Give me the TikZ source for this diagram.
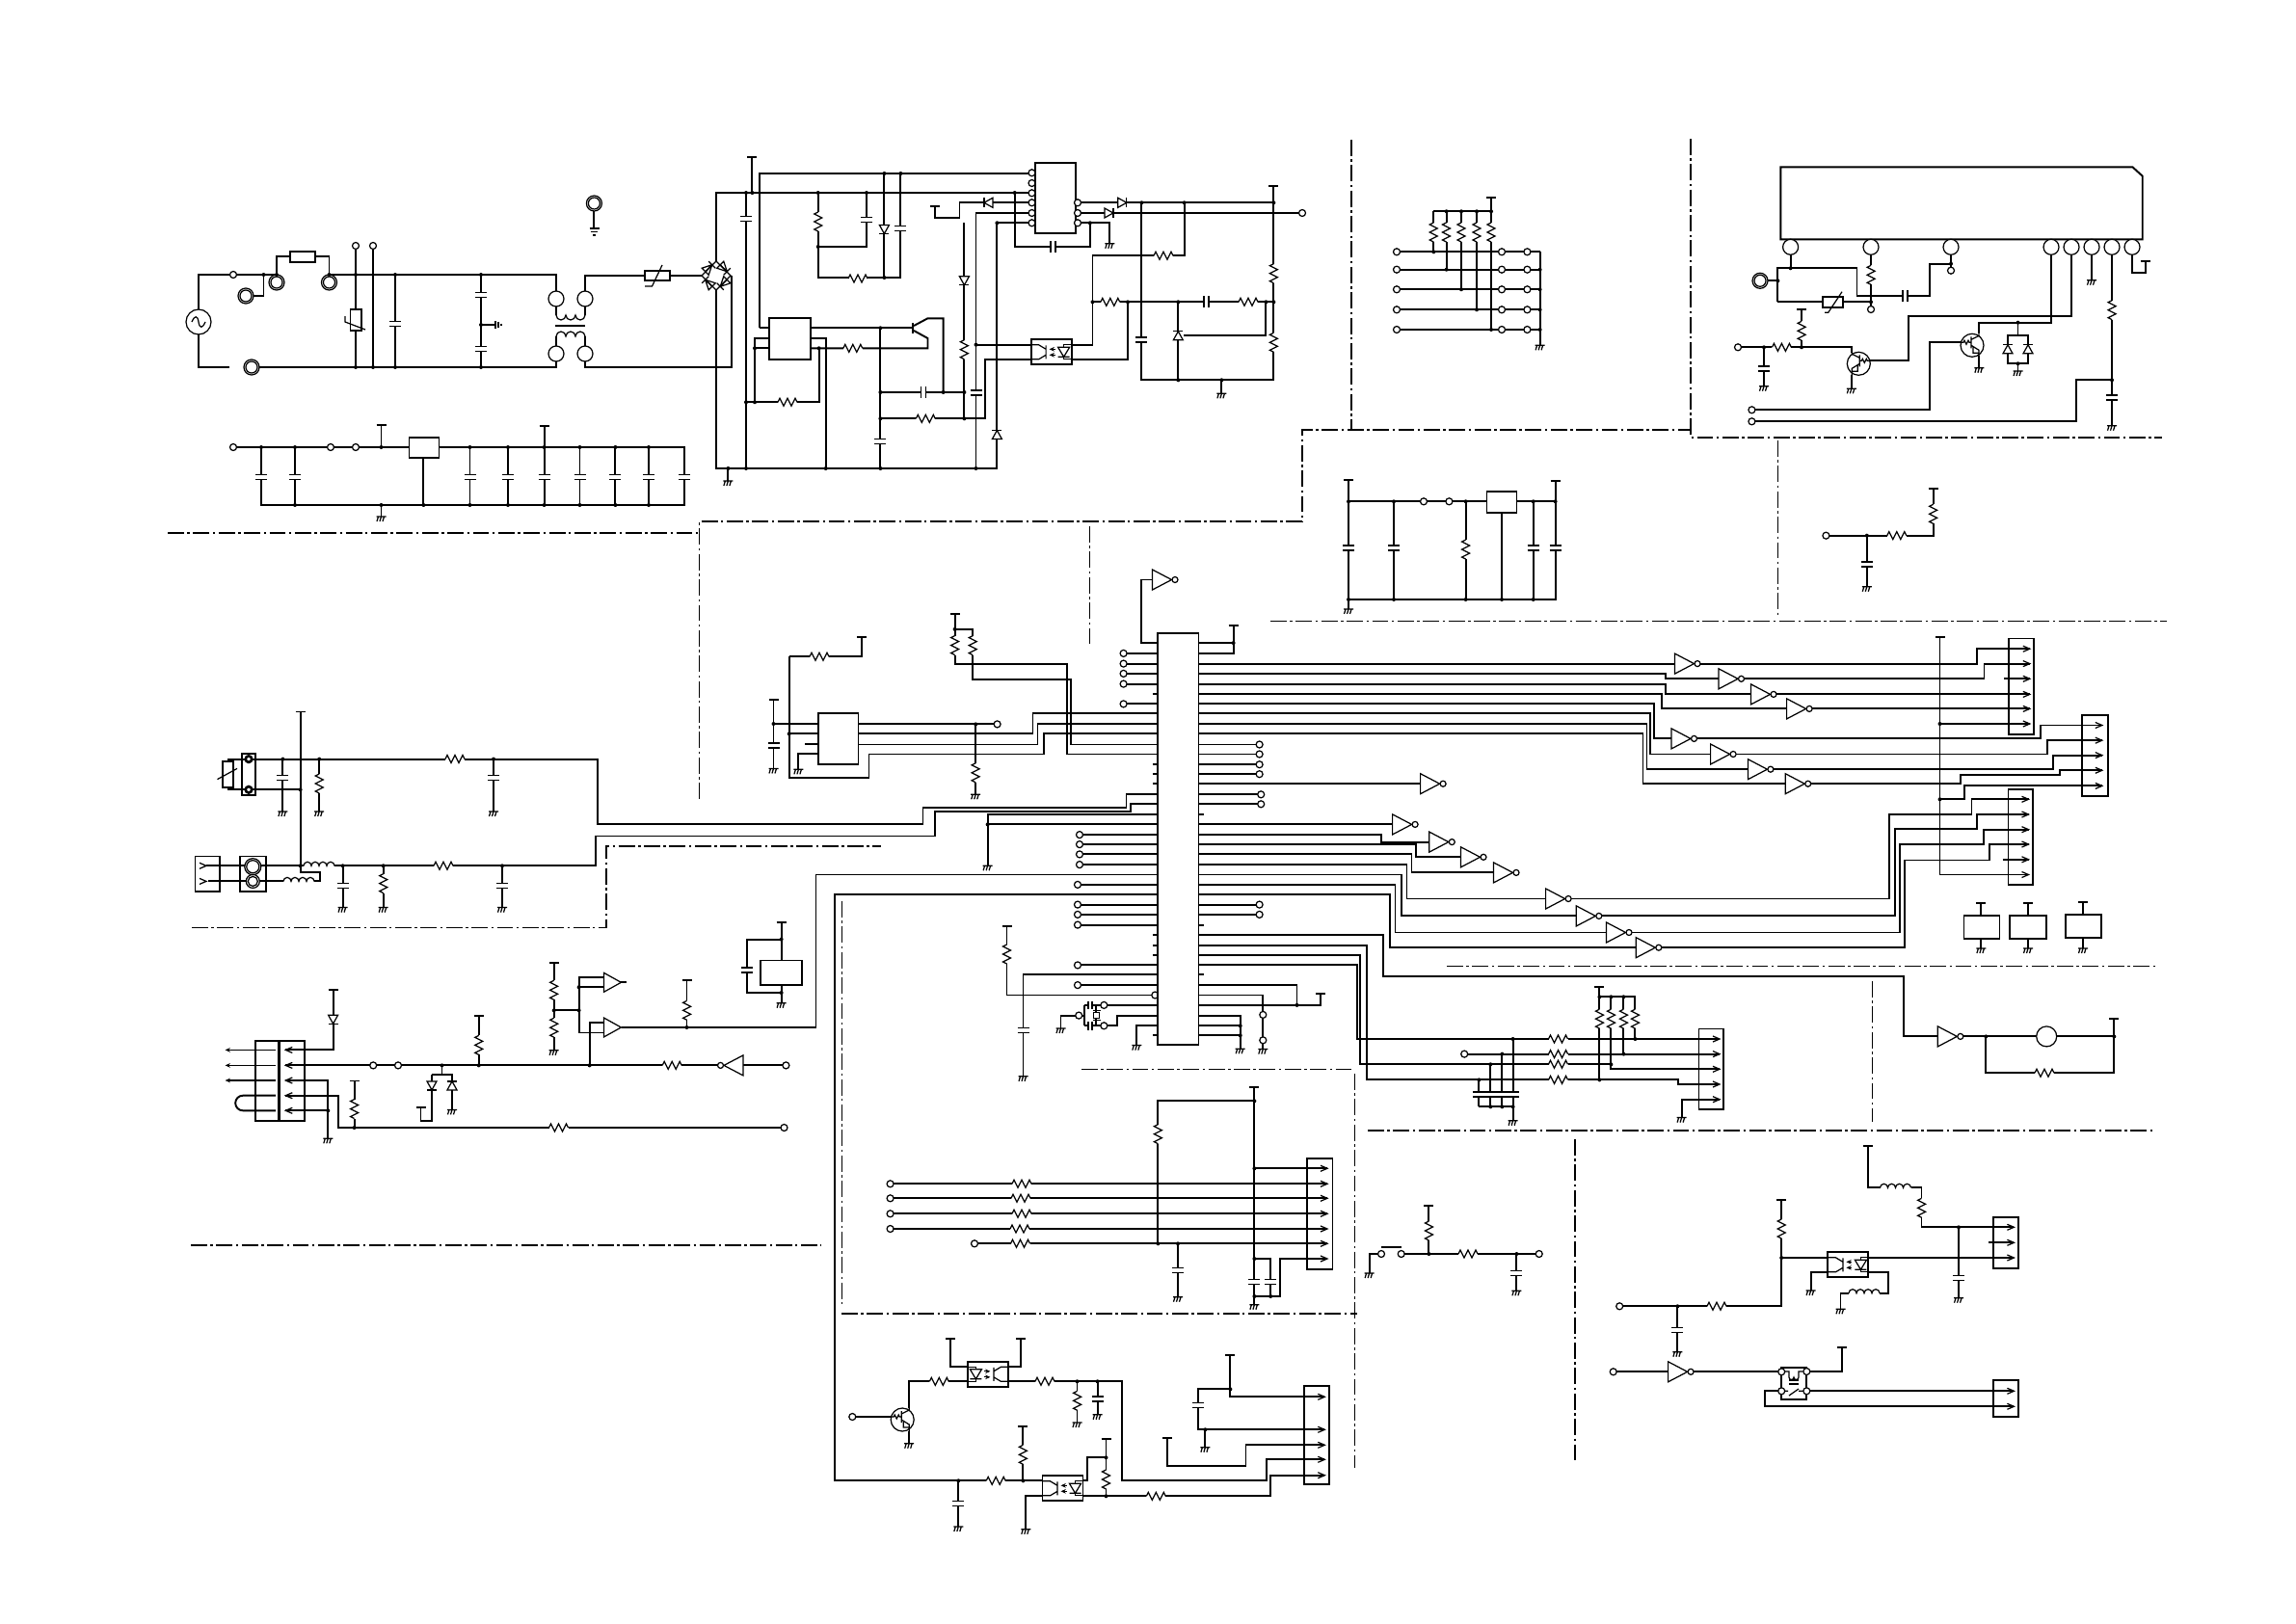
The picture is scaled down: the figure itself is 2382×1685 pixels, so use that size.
\documentclass[tikz,border=0pt]{standalone}
\usetikzlibrary{arrows.meta}
\tikzset{
  corte/.style={line width=0.5pt,dash pattern=on 4.8pt off 1pt on 0.7pt off 1pt},
  pieza/.style={line width=0.35pt},
  flecha/.style={-{Stealth[length=1.5pt,width=1.3pt]}},
  resH/.pic={\fill[white] (-10,-4.5) rectangle (10,4.5);
    \draw[pieza] (-10,0)--(-8,-4)--(-4,4)--(0,-4)--(4,4)--(8,-4)--(10,0);},
  resV/.pic={\fill[white] (-4.5,-10) rectangle (4.5,10);
    \draw[pieza] (0,-10)--(-4,-8)--(4,-4)--(-4,0)--(4,4)--(-4,8)--(0,10);},
  capV/.pic={\fill[white] (-6,-2.5) rectangle (6,2.5);
    \draw (-6,-2.5)--(6,-2.5) (-6,2.5)--(6,2.5);},
  capH/.pic={\fill[white] (-2.5,-6) rectangle (2.5,6);
    \draw (-2.5,-6)--(-2.5,6) (2.5,-6)--(2.5,6);},
  bobH/.pic={\fill[white] (-16,-5) rectangle (16,1);
    \draw[pieza] (-16,0) arc (180:360:4) arc (180:360:4) arc (180:360:4) arc (180:360:4);},
  gnd/.pic={\draw[pieza] (-5,0)--(5,0) (-3,0)--(-4.5,5) (0,0)--(-1.5,5) (3,0)--(1.5,5);},
  barra/.pic={\draw (-5,0)--(5,0);},
  anillo/.pic={\draw[pieza,fill=white] (0,0) circle (8) (0,0) circle (6);},
  punta/.pic={\draw[pieza] (-7,-3)--(0,0)--(-7,3);},
  puntaI/.pic={\draw[pieza] (7,-3)--(0,0)--(7,3);},
  inv/.pic={\draw[pieza,fill=white] (0,-10.5)--(20,0)--(0,10.5)--cycle;
    \draw[pieza,fill=white] (23.5,0) circle (3);},
  buf/.pic={\draw[pieza,fill=white] (0,-10)--(18,0)--(0,10)--cycle;},
  diodoD/.pic={\draw[pieza,fill=white] (-5,-4.5)--(5,-4.5)--(0,4.5)--cycle; \draw[pieza] (-5,4.5)--(5,4.5);},
  diodoU/.pic={\draw[pieza,fill=white] (-5,4.5)--(5,4.5)--(0,-4.5)--cycle; \draw[pieza] (-5,-4.5)--(5,-4.5);},
  diodoR/.pic={\draw[pieza,fill=white] (-4.5,-5)--(-4.5,5)--(4.5,0)--cycle; \draw[pieza] (4.5,-5)--(4.5,5);},
  diodoL/.pic={\draw[pieza,fill=white] (4.5,-5)--(4.5,5)--(-4.5,0)--cycle; \draw[pieza] (-4.5,-5)--(-4.5,5);},
  puente/.pic={\draw[pieza] (-15,0)--(0,-15)--(15,0)--(0,15)--cycle;
    \foreach \a in {45,135,-45,-135} {
      \begin{scope}[rotate=\a]
        \draw[pieza] (11,-5)--(11,5) (6,-5)--(16,-5)--(11,5)--cycle (6,5)--(16,5);
      \end{scope}
    }},
  opto/.pic={\draw (-21,-13) rectangle (21,13);
    \draw[pieza] (-21,-7.5)--(-13,-7.5)--(-5.5,-3) (-5.5,-7)--(-5.5,7) (-5.5,3)--(-13,7.5)--(-21,7.5);
    \draw[pieza,flecha] (4,-3)--(-2,-3);
    \draw[pieza,flecha] (4,3)--(-2,3);
    \draw[pieza] (21,-7.5)--(13,-7.5)--(13,-5) (13,5)--(13,7.5)--(21,7.5);
    \draw[pieza] (7,-5)--(19,-5)--(13,5)--cycle (7,5)--(19,5);},
  tran/.pic={\draw[pieza,fill=white] (0,0) circle (12);
    \draw[pieza] (-12,-3)--(-9,-3)--(-8,-5)--(-6,-1)--(-4,-5)--(-3,-3)--(-1,-3) (-1,-9)--(-1,3)
      (-1,-6)--(7,-10)--(7,-12) (-1,0)--(7,5)--(7,12) (1,2)--(1,8)--(7,8);}
}
\newcommand{\nudos}[1]{\foreach \p in {#1} {\fill \p circle (2);}}
\newcommand{\bornes}[1]{\foreach \p in {#1} {\draw[pieza,fill=white] \p circle (3.5);}}
\newcommand{\piezas}[2]{\foreach \p in {#2} {\path \p pic {#1};}}

\begin{document}
\begin{tikzpicture}[x=0.01cm,y=-0.01cm,line width=0.55pt]
\useasboundingbox (0,0) rectangle (2382,1685);

% Lineas de corte
\draw[corte] (174,553)--(726,553);
\draw[corte] (725.5,829)--(725.5,541)--(1351,541)--(1351,446.3)--(1754,446.3);
\draw[corte] (1130.4,546)--(1130.4,670);
\draw[corte] (1401.8,145)--(1401.8,445);
\draw[corte] (1754.3,144)--(1754.3,454.3)--(2243,454.3);
\draw[corte] (1844.4,457)--(1844.4,640);
\draw[corte] (1318,644.5)--(2248,644.5);
\draw[corte] (199,962.6)--(629,962.6)--(629,877.8)--(914.4,877.8);
\draw[corte] (198,1292)--(852,1292);
\draw[corte] (873.5,935)--(873.5,1356);
\draw[corte] (873,1363.3)--(1408,1363.3);
\draw[corte] (1121.8,1109.5)--(1404,1109.5);
\draw[corte] (1405.4,1114)--(1405.4,1523);
\draw[corte] (1501,1002.5)--(2236,1002.5);
\draw[corte] (1942.5,1018)--(1942.5,1164);
\draw[corte] (1419,1173.2)--(2236.6,1173.2);
\draw[corte] (1633.6,1182)--(1633.6,1518);

% Entrada de red
\draw (238,381)--(206,381)--(206,347);
\draw (206,321)--(206,285)--(287,285)--(287,266)--(341.5,266)--(341.5,285)--(577,285)--(577,302);
\draw (273.5,285)--(273.5,307)--(263,307);
\draw (269,381)--(577,381)--(577,375);
\draw (369,255)--(369,381);
\draw (387,255)--(387,381);
\draw (410,285)--(410,381);
\draw (499,285)--(499,381);
\draw (499,337)--(514,337);
\draw[pieza] (514,333)--(514,341) (517,334)--(517,340) (520,336)--(520,338);
\draw[pieza,fill=white] (206,334) circle (13);
\draw[pieza] (199,334) .. controls (202,327) and (205,327) .. (206,334) .. controls (207,341) and (210,341) .. (213,334);
\draw[fill=white] (301,261) rectangle (327,272);
\draw[fill=white] (363.5,321) rectangle (375,343);
\draw[pieza] (358,328)--(358,334)--(379,342);
\piezas{anillo}{(287,293),(341.5,293),(255,307),(261,381),(616.4,211)}
\piezas{capV}{(410,336),(499,306),(499,362)}
\bornes{(242,285),(369,255),(387,255)}
\nudos{(273.5,285),(287,285),(341.5,285),(369,285),(410,285),(499,285),(369,381),(387,381),(410,381),(499,381),(499,337)}
\draw (616.4,219)--(616.4,237);
\draw (611.5,237)--(621.5,237) (613,240.5)--(620,240.5) (615,244)--(618,244);

% Transformador y puente
\draw (577,318)--(577,327) (607,318)--(607,327) (577,349)--(577,359) (607,349)--(607,359);
\draw[pieza] (577,327) arc (180:0:5) arc (180:0:5) arc (180:0:5);
\draw[pieza] (577,349) arc (180:360:5) arc (180:360:5) arc (180:360:5);
\draw (576,338)--(607,338);
\draw (607,302)--(607,286)--(669,286) (695,286)--(728,286);
\draw (607,375)--(607,381)--(759,381)--(759,286);
\draw (743,271)--(743,200)--(1070.5,200);
\draw (743,301)--(743,486)--(1034.4,486)--(1034.4,231.3)--(1070.5,231.3);
\foreach \p in {(577,310),(607,310),(577,367),(607,367)} {\draw[pieza,fill=white] \p circle (8);}
\draw[fill=white] (669,281) rectangle (695,291);
\draw[pieza] (669,297)--(676.5,297)--(687,275);
\path (743,286) pic {puente};

% Regulador inferior
\draw (242,464)--(424.5,464) (455.5,464)--(710,464)--(710,524)--(271,524)--(271,464);
\foreach \x in {306,487.5,527,564.6,601.5,638.4,673} {\draw (\x,464)--(\x,524);}
\draw (395.5,441)--(395.5,464);
\draw (564.6,442)--(564.6,464);
\draw (439.4,475)--(439.4,524);
\draw (395.5,524)--(395.5,536);
\draw[fill=white] (424.5,454) rectangle (455.5,475);
\piezas{capV}{(271,495),(306,495),(487.5,495),(527,495),(564.6,495),(601.5,495),(638.4,495),(673,495),(710,495)}
\bornes{(242,464),(343,464),(369,464)}
\nudos{(271,464),(306,464),(395.5,464),(487.5,464),(527,464),(564.6,464),(601.5,464),(638.4,464),(673,464),
  (306,524),(395.5,524),(439.4,524),(487.5,524),(527,524),(564.6,524),(601.5,524),(638.4,524),(673,524)}
\piezas{barra}{(395.5,441),(564.6,442)}
\piezas{gnd}{(395.5,536)}

% Fuente conmutada
\draw (755.4,486)--(755.4,499);
\draw (774,200)--(774,486);
\draw (780.4,163)--(780.4,200);
\draw (788.4,340)--(788.4,180)--(1070.5,180);
\draw (788.4,340)--(798,340);
\draw (848.7,200)--(848.7,288)--(934.4,288)--(934.4,180);
\draw (848.7,256)--(899,256)--(899,200);
\draw (917.4,180)--(917.4,288);
\draw (1070.5,210.3)--(995.5,210.3)--(995.5,225.7)--(970,225.7)--(970,214.3);
\draw (1070.5,221)--(1012.5,221)--(1012.5,486);
\draw (1000.4,231.3)--(1000.4,434);
\draw (1012.5,357.7)--(1069.6,357.7);
\draw (1052.7,200)--(1052.7,256.3)--(1130.8,256.3)--(1130.8,231.3);
\draw (1118,231.3)--(1151.3,231.3)--(1151.3,252.7);
\draw (1120,210.3)--(1321.4,210.3);
\draw (1120,221)--(1351,221);
\draw (1321.4,193)--(1321.4,394.3)--(1184.4,394.3)--(1184.4,210.3);
\draw (1228.6,210.3)--(1228.6,265.3)--(1133.5,265.3)--(1133.5,358.3)--(1111.6,358.3);
\draw (1133.5,313.3)--(1321.4,313.3);
\draw (1170,313.3)--(1170,373.3)--(1111.6,373.3);
\draw (1222.3,313.3)--(1222.3,394.3);
\draw (1313.4,313.3)--(1313.4,348.3)--(1227.7,348.3);
\draw (1267.4,394.3)--(1267.4,408.3);
\draw (1069.6,373.3)--(1022.3,373.3)--(1022.3,434.3)--(913.4,434.3);
\draw (913.4,340.3)--(913.4,486);
\draw (840.6,340.3)--(947.3,340.3);
\draw (948,338)--(962.5,330.3)--(978.6,330.3)--(978.6,407);
\draw (948,343)--(962.5,351)--(962.5,361.3)--(840.6,361.3);
\draw (947.3,335)--(947.3,346);
\draw (913.4,407)--(1000.4,407);
\draw (798,351)--(783,351)--(783,417.3);
\draw (798,361.3)--(783,361.3);
\draw (840.6,351)--(856.7,351)--(856.7,486);
\draw (849.6,361.3)--(849.6,417.3)--(774,417.3);
\draw[fill=white] (1073.7,169) rectangle (1115.6,242);
\draw[fill=white] (798,330) rectangle (840.6,372.7);
\path (1090.6,365.3) pic {opto};
\piezas{resV}{(848.7,230),(1000.4,362.7),(1321.4,283.7),(1321.4,355.3)}
\piezas{resH}{(890,289),(817,417.3),(884.8,361.3),(960.3,434.3),(1207,265.3),(1151.8,313.3),(1295,313.3)}
\piezas{capV}{(774,227),(899,228),(934.4,237),(913.4,458),(1012.5,407.7),(1184.4,352.7)}
\piezas{capH}{(958,407),(1092.9,256.3),(1251.8,313.3)}
\piezas{diodoD}{(917.4,238),(1000.4,291.3)}
\piezas{diodoU}{(1034.4,451),(1222.3,348.3)}
\piezas{diodoL}{(1025.4,210.3)}
\piezas{diodoR}{(1164.3,210.3),(1150.4,221)}
\bornes{(1070.5,179.3),(1070.5,190),(1070.5,200.3),(1070.5,210.3),(1070.5,221),(1070.5,231.3),(1118,210.3),(1118,221),(1118,231.3),(1351,221)}
\nudos{(755.4,486),(774,200),(780.4,200),(774,417.3),(783,417.3),(783,361.3),(774,486),(848.7,200),(899,200),(1052.7,200),
  (917.4,180),(934.4,180),(848.7,256),(917.4,288),(849.6,361.3),(856.7,486),(913.4,340.3),(913.4,407),(913.4,434.3),(913.4,486),
  (978.6,407),(1000.4,407),(1000.4,434.3),(1012.5,357.7),(1012.5,486),(1034.4,231.3),(1130.8,231.3),(1184.4,210.3),(1228.6,210.3),
  (1321.4,210.3),(1133.5,313.3),(1170,313.3),(1222.3,313.3),(1313.4,313.3),(1321.4,313.3),(1222.3,394.3),(1267.4,394.3)}
\piezas{barra}{(780.4,163),(970,214.3),(1321.4,193)}
\piezas{gnd}{(755.4,499),(1151.3,252.7),(1267.4,408.3)}

% Red de resistencias
\draw (1487.3,219.3)--(1547,219.3);
\draw (1547,204.7)--(1547,342);
\draw (1487.3,219.3)--(1487.3,261.3);
\draw (1500.6,219.3)--(1500.6,279.7);
\draw (1516,219.3)--(1516,300.3);
\draw (1532,219.3)--(1532,321.3);
\foreach \y in {261.3,279.7,300.3,321.3,342} {\draw (1449,\y)--(1597.6,\y);}
\draw (1597.6,261.3)--(1597.6,358.3);
\piezas{resV}{(1487.3,241),(1500.6,241),(1516,241),(1532,241),(1547,241)}
\foreach \y in {261.3,279.7,300.3,321.3,342} {\bornes{(1449,\y),(1558,\y),(1584.4,\y)}}
\nudos{(1500.6,219.3),(1516,219.3),(1532,219.3),(1547,219.3),(1487.3,261.3),(1500.6,279.7),(1516,300.3),(1532,321.3),(1547,342),
  (1597.6,279.7),(1597.6,300.3),(1597.6,321.3),(1597.6,342)}
\piezas{barra}{(1547,204.7)}
\piezas{gnd}{(1597.6,358.3)}

% Modulo de potencia
\draw (1857.6,264)--(1857.6,278.3);
\draw (1844.4,313.3)--(1844.4,278.3)--(1926.5,278.3)--(1926.5,307.3)--(2001.7,307.3)--(2001.7,273.7)--(2024,273.7);
\draw (1834,291.3)--(1844.4,291.3);
\draw (1844.4,313.3)--(1891,313.3) (1911.6,313.3)--(1941,313.3);
\draw (1941,264)--(1941,321);
\draw (2024,264)--(2024,280.7);
\draw (1869,320.7)--(1869,360.3);
\draw (1803,360.3)--(1920.8,360.3)--(1920.8,366);
\draw (1830,360.3)--(1830,400.7);
\draw (1940,374.3)--(1980,374.3)--(1980,328.3)--(2149.2,328.3)--(2149.2,264);
\draw (1920.8,389)--(1920.8,403.3);
\draw (1817.4,425.3)--(2001.7,425.3)--(2001.7,355.3)--(2034,355.3);
\draw (2053.4,346)--(2053.4,334.7)--(2128,334.7)--(2128,264);
\draw (2053.4,369)--(2053.4,381.7);
\draw (2093.5,334.7)--(2093.5,348.3);
\draw (2083,348.3) rectangle (2104,377.3);
\draw (2093.5,377.3)--(2093.5,385);
\draw (2170,264)--(2170,290.7);
\draw (2191,264)--(2191,441.7);
\draw (2191,394.3)--(2153.8,394.3)--(2153.8,437.3)--(1817.4,437.3);
\draw (2212,264)--(2212,283.3)--(2225.6,283.3)--(2225.6,270.7);
\draw[fill=white] (1847.3,173.3)--(2212.4,173.3)--(2222.7,182.7)--(2222.7,248.3)--(1847.3,248.3)--cycle;
\foreach \x in {1857.6,1941,2024,2128,2149,2170,2191,2212} {\draw[pieza,fill=white] (\x,256.3) circle (8);}
\draw[fill=white] (1891,308.3) rectangle (1911.6,318.7);
\draw[pieza] (1893,324.3)--(1896.7,324.3)--(1911,302.7);
\path (1826,291.3) pic {anillo};
\path (1928.3,377.3) pic[xscale=-1] {tran};
\path (2046,358.3) pic {tran};
\piezas{resV}{(1941,285.3),(1869,343.3),(2191,321.7)}
\piezas{resH}{(1848.4,360.3)}
\piezas{capV}{(1830,382.3),(2191,412.7)}
\piezas{capH}{(1976.4,307.3)}
\piezas{diodoU}{(2083,362.3),(2104,362.3)}
\bornes{(2024,280.7),(1941,321),(1803,360.3),(1817.4,425.3),(1817.4,437.3)}
\nudos{(1857.6,278.3),(1844.4,291.3),(1941,313.3),(2024,273.7),(1830,360.3),(1869,360.3),(2093.5,334.7),(2093.5,377.3),(2191,394.3)}
\piezas{barra}{(1869,320.7),(2225.6,270.7)}
\piezas{gnd}{(1830,400.7),(1920.8,403.3),(2053.4,381.7),(2093.5,385),(2170,290.7),(2191,441.7)}

% Regulador central
\draw (1399,497.7)--(1399,632);
\draw (1399,520.3)--(1542.5,520.3) (1573.5,520.3)--(1613.6,520.3);
\draw (1399,622)--(1613.6,622)--(1613.6,499.3);
\draw (1446,520.3)--(1446,622);
\draw (1520.6,520.3)--(1520.6,622);
\draw (1590.7,520.3)--(1590.7,622);
\draw (1558,531.7)--(1558,622);
\draw[fill=white] (1542.5,510.3) rectangle (1573.5,531.7);
\piezas{capV}{(1399,568.3),(1446,568.3),(1590.7,568.3),(1613.6,568.3)}
\piezas{resV}{(1520.6,570)}
\bornes{(1477,520.3),(1503.4,520.3)}
\nudos{(1399,520.3),(1446,520.3),(1520.6,520.3),(1590.7,520.3),(1613.6,520.3),(1399,622),(1446,622),(1520.6,622),(1558,622),(1590.7,622)}
\piezas{barra}{(1399,497.7),(1613.6,499.3)}
\piezas{gnd}{(1399,632)}

% Filtro de entrada
\draw (1894.4,555.7)--(2005.7,555.7)--(2005.7,506.7);
\draw (1936.8,555.7)--(1936.8,608.7);
\piezas{resH}{(1967.8,555.7)}
\piezas{resV}{(2005.7,533.3)}
\piezas{capV}{(1936.8,585.7)}
\bornes{(1894.4,555.7)}
\nudos{(1936.8,555.7)}
\piezas{barra}{(2005.7,506.7)}
\piezas{gnd}{(1936.8,608.7)}

% Sensores
\draw (258,787.6)--(619.7,787.6)--(619.7,854.6)--(957.5,854.6)--(957.5,838.2)--(1168.5,838.2)--(1168.5,824.3)--(1201.2,824.3);
\draw (258,819.3)--(311.6,819.3);
\draw (236.5,790)--(236.5,787.6)--(258,787.6) (236.5,816.6)--(236.5,819.3)--(258,819.3);
\draw (311.6,738.5)--(311.6,905.4)--(332,905.4)--(332,914.4)--(216,914.4);
\draw (214,898.3)--(617.8,898.3)--(617.8,867.5)--(970.3,867.5)--(970.3,841.8)--(1172.6,841.8)--(1172.6,834.3)--(1201.2,834.3);
\foreach \x in {293.4,331.2,512} {\draw (\x,787.6)--(\x,842);}
\foreach \x in {355.6,397.7,521} {\draw (\x,898.3)--(\x,941.6);}
\draw[fill=white] (230.7,790) rectangle (242,816.6);
\draw[pieza] (225.5,808.6)--(246,797.4);
\draw (251.3,782) rectangle (264.7,824.6);
\draw (202.5,888.5) rectangle (228.3,924.6);
\draw (249.4,888.5) rectangle (275.7,924.6);
\foreach \y in {787.6,819.3} {\draw[pieza,fill=white] (258,\y) circle (4) (258,\y) circle (2.5);}
\draw[pieza,fill=white] (262.3,899.2) circle (8.5) (262.3,899.2) circle (6.5);
\draw[pieza,fill=white] (262.3,914.4) circle (7) (262.3,914.4) circle (5);
\piezas{punta}{(214,898.3),(214,914.4)}
\piezas{bobH}{(331,898.3),(310,914.4)}
\piezas{resH}{(472,787.6),(460,898.3)}
\piezas{resV}{(331.2,813),(397.7,916.6)}
\piezas{capV}{(293.4,807),(512,807),(355.6,919),(521,919)}
\nudos{(293.4,787.6),(331.2,787.6),(512,787.6),(311.6,819.3),(311.6,898.3),(355.6,898.3),(397.7,898.3),(521,898.3)}
\piezas{barra}{(311.6,738.5)}
\piezas{gnd}{(293.4,842),(331.2,842),(512,842),(355.6,941.6),(397.7,941.6),(521,941.6)}

% Conector del display
\foreach \y in {1089.4,1105.4,1121} {\draw[pieza,flecha] (286,\y)--(233.6,\y);}
\draw (286,1136.7)--(252,1136.7) arc (270:90:7.8)--(286,1152.3);
\draw (296.3,1089.4)--(345.6,1089.4)--(345.6,1027.3);
\draw (296.3,1105.4)--(749.4,1105.4);
\draw (771,1105.4)--(815.4,1105.4);
\draw (296.3,1121)--(340.3,1121)--(340.3,1181.3);
\draw (296.3,1136.7)--(350.8,1136.7)--(350.8,1170)--(813.5,1170);
\draw (296.3,1152.3)--(340.3,1152.3);
\draw (367.6,1121.5)--(367.6,1170);
\draw (458.5,1105.4)--(458.5,1115);
\draw (448,1115)--(469,1115)--(469,1151.4);
\draw (448,1115)--(448,1162.6)--(436.5,1162.6)--(436.5,1148.8);
\draw (496.7,1053.7)--(496.7,1105.4);
\draw (574.7,998.8)--(574.7,1089.8);
\draw (574.7,1048.3)--(600.6,1048.3);
\draw (626.4,1014.4)--(600.6,1014.4)--(600.6,1071.5)--(626.4,1071.5);
\draw (600.6,1024.2)--(626.4,1024.2);
\draw (611.6,1105.4)--(611.6,1061.2)--(626.4,1061.2);
\draw (644,1019.3)--(650,1019.3);
\draw (645,1066)--(846.5,1066)--(846.5,907.5)--(1201.2,907.5);
\draw (712.5,1066)--(712.5,1016.6);
\draw (810.6,957.2)--(810.6,996.5);
\draw (810.6,974.6)--(774.7,974.6)--(774.7,1030)--(810.6,1030);
\draw (810.6,1022.4)--(810.6,1040.7);
\draw (264.7,1079.6) rectangle (288.6,1162.6);
\draw (290.5,1079.6) rectangle (316.4,1162.6);
\draw[fill=white] (789,996.5) rectangle (831.7,1022.4);
\piezas{puntaI}{(296.3,1089.4),(296.3,1105.4),(296.3,1121),(296.3,1136.7),(296.3,1152.3)}
\path (626.4,1019.3) pic {buf};
\path (626.4,1066) pic {buf};
\path (771,1105.4) pic[xscale=-1] {inv};
\piezas{resH}{(697.2,1105.4),(579.5,1170)}
\piezas{resV}{(367.6,1150.5),(496.7,1084.4),(574.7,1027.3),(574.7,1066.2),(712.5,1048.3)}
\piezas{capV}{(774.7,1006.3)}
\piezas{diodoD}{(345.6,1057.7),(448,1126.4)}
\piezas{diodoU}{(469,1126.4)}
\bornes{(387.2,1105.4),(413,1105.4),(815.4,1105.4),(813.5,1170)}
\nudos{(340.3,1152.3),(367.6,1170),(458.5,1105.4),(496.7,1105.4),(611.6,1105.4),(574.7,1048.3),(600.6,1048.3),(600.6,1024.2),(712.5,1066),(810.6,974.6),(810.6,1030)}
\piezas{barra}{(345.6,1027.3),(367.6,1121.5),(436.5,1148.8),(496.7,1053.7),(574.7,998.8),(712.5,1016.6),(810.6,957.2)}
\piezas{gnd}{(340.3,1181.3),(469,1151.4),(574.7,1089.8),(810.6,1040.7)}

% Memoria
\draw (802.5,726)--(802.5,797.4);
\draw (802.5,751)--(849,751);
\draw (818.7,681.3)--(818.7,807.2)--(901.5,807.2)--(901.5,782.5)--(1082.7,782.5)--(1082.7,761.4)--(1201.2,761.4);
\draw (818.7,681.3)--(894,681.3)--(894,661);
\draw (818.7,761.3)--(849,761.3);
\draw (828.4,798.3)--(828.4,782.2)--(849,782.2);
\draw (835,772)--(849,772);
\draw (890.5,751.4)--(1034.6,751.4);
\draw (890.5,761.4)--(1071.5,761.4)--(1071.5,740.4)--(1201.2,740.4);
\draw (890.5,772.5)--(1076.5,772.5)--(1076.5,751.4)--(1201.2,751.4);
\draw (1012.2,751.4)--(1012.2,824.3);
\draw (1201.2,772.5)--(1111.3,772.5)--(1111.3,705.4)--(1009.3,705.4)--(1009.3,652.9)--(990.6,652.9);
\draw (1201.2,782.5)--(1106.7,782.5)--(1106.7,689.3)--(990.6,689.3)--(990.6,637.1);
\draw[fill=white] (849,740) rectangle (890.5,793.4);
\piezas{resH}{(850,681.3)}
\piezas{resV}{(990.6,669.6),(1009.3,669.6),(1012.2,801.8)}
\piezas{capV}{(802.5,773.8)}
\bornes{(1034.6,751.4)}
\nudos{(802.5,751),(818.7,761.3),(1012.2,751.4),(990.6,652.9)}
\piezas{barra}{(802.5,726),(894,661),(990.6,637.1)}
\piezas{gnd}{(802.5,797.4),(828.4,798.3),(1012.2,824.3)}

% Microcontrolador, lado izquierdo
\draw (1201.2,667.1)--(1184.2,667.1)--(1184.2,601.5)--(1195.5,601.5);
\path (1195.5,601.5) pic {inv};
\foreach \y in {677.9,688.6,698.9,709.6,730.4} {\draw (1165.6,\y)--(1201.2,\y); \bornes{(1165.6,\y)}}
\foreach \y in {720.4,793.2,803.2,813.2,970.4,980.7,991.4,1074.3} {\draw (1195.9,\y)--(1201.2,\y);}
\foreach \y in {866.1,876.1,886.4,897.1} {\draw (1120,\y)--(1201.2,\y); \bornes{(1120,\y)}}
\foreach \y in {917.9,938.6,948.9,959.6,1001.4,1022.1} {\draw (1118,\y)--(1201.2,\y); \bornes{(1118,\y)}}
\draw (1201.2,845.4)--(1024.6,845.4)--(1024.6,898.2);
\draw (1201.2,855.4)--(1024.6,855.4);
\draw (1201.2,1011.4)--(1061.5,1011.4)--(1061.5,1116.8);
\draw (1201.2,1032.5)--(1044.5,1032.5)--(1044.5,960.7);
\draw (1201.2,1042.9)--(1145.3,1042.9);
\draw (1201.2,1053.6)--(1159.4,1053.6)--(1159.4,1064.3)--(1145.3,1064.3);
\draw (1201.2,1064.3)--(1179.3,1064.3)--(1179.3,1084.6);
\draw (1100.5,1067)--(1100.5,1053.6)--(1119.2,1053.6);
\draw (1122,1053.6)--(1125,1053.6);
\draw (1125,1042.9)--(1125,1064.3);
\draw (1125,1042.9)--(1145.3,1042.9) (1125,1064.3)--(1145.3,1064.3);
\draw (1137.4,1042.9)--(1137.4,1064.3);
\draw[pieza,fill=white] (1134.5,1050.5) rectangle (1140.5,1056.5);
\draw[pieza] (1133.5,1048.5)--(1141.5,1048.5) (1133.5,1058.5)--(1141.5,1058.5);
\path (1131,1042.9) pic[scale=0.7] {capH};
\path (1131,1064.3) pic[scale=0.7] {capH};
\piezas{capV}{(1061.5,1069)}
\piezas{resV}{(1044.5,990)}
\bornes{(1198.3,1032.5),(1145.3,1042.9),(1145.3,1064.3),(1119.2,1053.6)}
\nudos{(1024.6,855.4)}
\piezas{barra}{(1044.5,960.7)}
\piezas{gnd}{(1024.6,898.2),(1061.5,1116.8),(1100.5,1067),(1179.3,1084.6)}

% Microcontrolador, lado derecho
\foreach \y in {772.5,782.5,793.2,803.2,938.6,948.9} {\draw (1243.5,\y)--(1306.6,\y); \bornes{(1306.6,\y)}}
\foreach \y in {824.3,834.3} {\draw (1243.5,\y)--(1308.2,\y); \bornes{(1308.2,\y)}}
\foreach \y in {845.4,959.6,1011.4} {\draw (1243.5,\y)--(1249,\y);}
\draw (1243.5,667.1)--(1279.6,667.1)--(1279.6,649.3);
\draw (1243.5,677.9)--(1279.6,677.9)--(1279.6,667.1);
\draw (1243.5,813.2)--(1473.6,813.2);
\draw (1243.5,855.4)--(1444.6,855.4);
\draw (1243.5,866.1)--(1433.4,866.1)--(1433.4,873.6)--(1482.8,873.6);
\draw (1243.5,876.1)--(1468.7,876.1)--(1468.7,889.3)--(1515.5,889.3);
\draw (1243.5,886.4)--(1464.5,886.4)--(1464.5,905.4)--(1549.5,905.4);
\draw (1243.5,1022.1)--(1345.5,1022.1)--(1345.5,1042.9);
\draw (1243.5,1032.5)--(1310.3,1032.5)--(1310.3,1088.6);
\draw (1243.5,1042.9)--(1370.4,1042.9)--(1370.4,1031.4);
\draw (1243.5,1053.6)--(1286.7,1053.6)--(1286.7,1088.2);
\draw (1243.5,1064.3)--(1286.7,1064.3);
\draw (1243.5,1074.3)--(1286.7,1074.3);
\draw[fill=white] (1201.2,657) rectangle (1243.5,1084.3);
\bornes{(1310.3,1052.9),(1310.3,1079.3)}
\nudos{(1279.6,667.1),(1345.5,1042.9),(1286.7,1064.3),(1286.7,1074.3)}
\piezas{barra}{(1279.6,649.3),(1370.4,1031.4)}
\piezas{gnd}{(1286.7,1088.2),(1310.3,1088.6)}
\piezas{inv}{(1473.6,813.2),(1444.6,855.4),(1482.8,873.6),(1515.5,889.3),(1549.5,905.4)}

% Salidas a los conectores
\draw (2012.5,661.4)--(2012.5,907.5)--(2104.5,907.5);
\draw (1243.5,688.6)--(1737.5,688.6) (1764,688.6)--(2051.3,688.6)--(2051.3,673.2)--(2105.8,673.2);
\draw (1243.5,698.9)--(1727.7,698.9)--(1727.7,704.3)--(1783,704.3) (1809,704.3)--(2058.5,704.3)--(2058.5,688.6)--(2105.8,688.6);
\draw (1243.5,709.6)--(1727.7,709.6)--(1727.7,720.4)--(1816.5,720.4) (1842,720.4)--(2105.8,720.4);
\draw (1243.5,720.4)--(1723.7,720.4)--(1723.7,735.4)--(1853.6,735.4) (1880,735.4)--(2105.8,735.4);
\draw (2079,704.3)--(2105.8,704.3);
\draw (2012.5,751)--(2105.8,751);
\draw (1243.5,730.4)--(1716,730.4)--(1716,766.4)--(1734,766.4) (1760,766.4)--(2117.4,766.4)--(2117.4,752.5)--(2180.8,752.5);
\draw (1243.5,740.4)--(1711.6,740.4)--(1711.6,782.5)--(1774.6,782.5) (1800,782.5)--(2123.7,782.5)--(2123.7,768.2)--(2180.8,768.2);
\draw (1243.5,751.4)--(1708.5,751.4)--(1708.5,798.2)--(1813.4,798.2) (1839,798.2)--(2130.4,798.2)--(2130.4,783.6)--(2180.8,783.6);
\draw (1243.5,761.4)--(1704.5,761.4)--(1704.5,813.2)--(1852.2,813.2) (1878,813.2)--(2034.4,813.2)--(2034.4,804.3)--(2136.6,804.3)--(2136.6,799.3)--(2180.8,799.3);
\draw (2012.5,829.3)--(2038.4,829.3)--(2038.4,815.4)--(2180.8,815.4);
\draw (1243.5,897.1)--(1459.5,897.1)--(1459.5,932.5)--(1603.6,932.5) (1629,932.5)--(1960.3,932.5)--(1960.3,845.4)--(2045.5,845.4)--(2045.5,829.3)--(2104.5,829.3);
\draw (1243.5,907.5)--(1453.7,907.5)--(1453.7,950.4)--(1635.3,950.4) (1661,950.4)--(1965.6,950.4)--(1965.6,860.4)--(2051.3,860.4)--(2051.3,845)--(2104.5,845);
\draw (1243.5,917.9)--(1447.5,917.9)--(1447.5,967.5)--(1666.5,967.5) (1692,967.5)--(1971.4,967.5)--(1971.4,876.4)--(2057.6,876.4)--(2057.6,860.7)--(2104.5,860.7);
\draw (1243.5,928.2)--(1441.7,928.2)--(1441.7,983.2)--(1697.3,983.2) (1723,983.2)--(1976.3,983.2)--(1976.3,892.5)--(2064.3,892.5)--(2064.3,876)--(2104.5,876);
\draw (2077.7,891.8)--(2104.5,891.8);
\draw (2084.4,662.5) rectangle (2110.3,761.8);
\draw (2160.3,742.1) rectangle (2186.6,825.7);
\draw (2083.5,819.3) rectangle (2109.4,918.2);
\piezas{inv}{(1737.5,688.6),(1783,704.3),(1816.5,720.4),(1853.6,735.4),(1734,766.4),(1774.6,782.5),(1813.4,798.2),(1852.2,813.2),
  (1603.6,932.5),(1635.3,950.4),(1666.5,967.5),(1697.3,983.2)}
\foreach \y in {673.2,688.6,704.3,720.4,735.4,751} {\path (2105.8,\y) pic {punta};}
\foreach \y in {752.5,768.2,783.6,799.3,815.4} {\path (2180.8,\y) pic {punta};}
\foreach \y in {829.3,845,860.7,876,891.8,907.5} {\path (2104.5,\y) pic {punta};}
\nudos{(2012.5,751),(2012.5,829.3)}
\piezas{barra}{(2012.5,661.4)}

% Alimentacion auxiliar
\foreach \x/\a/\b/\h/\r in {2037.5/2074.5/2055.4/950.4/937,2085.3/2122.8/2104/950.4/937,2143.3/2179.5/2161/949.3/936.4} {
  \draw (\b,\r)--(\b,984);
  \draw[fill=white] (\x,\h) rectangle (\a,\h+24);
  \path (\b,\r) pic {barra};
  \path (\b,984) pic {gnd};
}

% Motor
\draw (1243.5,970.4)--(1434.7,970.4)--(1434.7,1013.2)--(1975.4,1013.2)--(1975.4,1075.4)--(2010.3,1075.4);
\draw (2036,1075.4)--(2193.3,1075.4)--(2193.3,1113.2)--(2060.3,1113.2)--(2060.3,1075.4);
\draw (2193.3,1057.1)--(2193.3,1075.4);
\path (2010.3,1075.4) pic {inv};
\draw[pieza,fill=white] (2123.2,1075.4) circle (10.5);
\piezas{resH}{(2121,1113.2)}
\nudos{(2060.3,1075.4),(2193.3,1075.4)}
\piezas{barra}{(2193.3,1057.1)}

% Conector medio
\draw (1243.5,1001.4)--(1407.7,1001.4)--(1407.7,1078)--(1784,1078);
\draw (1243.5,991.4)--(1411.4,991.4)--(1411.4,1104.3)--(1671.4,1104.3);
\draw (1243.5,980.7)--(1417.7,980.7)--(1417.7,1120.4)--(1741,1120.4)--(1741,1125)--(1784,1125);
\draw (1519.2,1093.6)--(1784,1093.6);
\draw (1659.4,1024.3)--(1659.4,1120.4);
\draw (1659.4,1034.3)--(1696.4,1034.3)--(1696.4,1078);
\draw (1671.4,1034.3)--(1671.4,1109.3)--(1784,1109.3);
\draw (1684.4,1034.3)--(1684.4,1093.6);
\draw (1744.6,1159.6)--(1744.6,1140.7)--(1784,1140.7);
\foreach \x/\y in {1534.4/1120.4,1546.3/1104.3,1558.3/1093.6,1569.6/1078} {\draw (\x,\y)--(\x,1148.3);}
\draw (1534.4,1148.3)--(1569.6,1148.3)--(1569.6,1162.7);
\draw (1762.5,1067.5) rectangle (1788.4,1151.4);
\piezas{capV}{(1534.4,1135.3),(1546.3,1135.3),(1558.3,1135.3),(1569.6,1135.3)}
\piezas{resH}{(1616.5,1078),(1616.5,1093.6),(1616.5,1104.3),(1616.5,1120.4)}
\piezas{resV}{(1659.4,1057.1),(1671.4,1057.1),(1684.4,1057.1),(1696.4,1057.1)}
\foreach \y in {1078,1093.6,1109.3,1125,1140.7} {\path (1784,\y) pic {punta};}
\bornes{(1519.2,1093.6)}
\nudos{(1569.6,1078),(1558.3,1093.6),(1546.3,1104.3),(1534.4,1120.4),(1546.3,1148.3),(1558.3,1148.3),(1569.6,1148.3),
  (1659.4,1034.3),(1671.4,1034.3),(1684.4,1034.3),(1696.4,1078),(1684.4,1093.6),(1671.4,1104.3),(1659.4,1120.4)}
\piezas{barra}{(1659.4,1024.3)}
\piezas{gnd}{(1569.6,1162.7),(1744.6,1159.6)}

% Conector inferior
\draw (1301.4,1127.7)--(1301.4,1353.7);
\draw (1301.4,1142.3)--(1201.4,1142.3)--(1201.4,1290.3);
\draw (1301.4,1212.3)--(1377,1212.3);
\foreach \y in {1228.3,1243.3,1259.3,1275} {\draw (923.6,\y)--(1377,\y);}
\draw (1011,1290.3)--(1377,1290.3);
\draw (1222,1290.3)--(1222,1345.7);
\draw (1301.4,1306)--(1318.2,1306)--(1318.2,1345)--(1301.4,1345);
\draw (1318.2,1345)--(1327.9,1345)--(1327.9,1306)--(1377,1306);
\draw (1356.4,1202.3) rectangle (1382.5,1316.7);
\piezas{capV}{(1222,1318),(1301.4,1330),(1318.2,1330)}
\piezas{resV}{(1201.4,1176.7)}
\piezas{resH}{(1060,1228.3),(1059,1243.3),(1060,1259.3),(1058,1275),(1058.5,1290.3)}
\foreach \y in {1212.3,1228.3,1243.3,1259.3,1275,1290.3,1306} {\path (1377,\y) pic {punta};}
\foreach \y in {1228.3,1243.3,1259.3,1275} {\bornes{(923.6,\y)}}
\bornes{(1011,1290.3)}
\nudos{(1301.4,1142.3),(1301.4,1212.3),(1201.4,1290.3),(1222,1290.3),(1301.4,1306),(1301.4,1345),(1318.2,1345)}
\piezas{barra}{(1301.4,1127.7)}
\piezas{gnd}{(1222,1345.7),(1301.4,1353.7)}

% Optoacopladores
\draw (986.4,1389.3)--(986.4,1418.3)--(1004.3,1418.3);
\draw (1059.3,1389.3)--(1059.3,1418.3)--(1046.4,1418.3);
\draw (884.3,1470)--(924,1470);
\draw (943.2,1461)--(943.2,1433.3)--(1004.3,1433.3);
\draw (943.2,1485)--(943.2,1497.7);
\draw (1046.4,1433.3)--(1163.6,1433.3)--(1163.6,1536.3)--(1313.6,1536.3)--(1313.6,1514.3)--(1374.3,1514.3);
\draw (1117.5,1433.3)--(1117.5,1476);
\draw (1138.6,1433.3)--(1138.6,1467.7);
\draw (1081.4,1536.3)--(865.6,1536.3)--(865.6,928.2)--(1201.2,928.2);
\draw (994.3,1536.3)--(994.3,1584);
\draw (1061.4,1480.3)--(1061.4,1536.3);
\draw (1081.4,1552.3)--(1064.3,1552.3)--(1064.3,1586.7);
\draw (1123.6,1536.3)--(1128.2,1536.3)--(1128.2,1512.3)--(1147.5,1512.3);
\draw (1147.5,1492.7)--(1147.5,1552.3);
\draw (1123.6,1552.3)--(1318.2,1552.3)--(1318.2,1530.7)--(1374.3,1530.7);
\draw (1276.4,1406.3)--(1276.4,1449.3)--(1374.3,1449.3);
\draw (1276.4,1441.3)--(1243.2,1441.3)--(1243.2,1483.3)--(1374.3,1483.3);
\draw (1250.4,1483.3)--(1250.4,1501.7);
\draw (1211.4,1491.7)--(1211.4,1521.3)--(1292.5,1521.3)--(1292.5,1499.3)--(1374.3,1499.3);
\draw (1353.2,1438.3) rectangle (1379.3,1540.3);
\path (1025.4,1425.8) pic[xscale=-1] {opto};
\path (1102.5,1544.3) pic {opto};
\path (936.2,1473) pic {tran};
\piezas{resH}{(974.3,1433.3),(1084,1433.3),(1033.2,1536.3),(1199.3,1552.3)}
\piezas{resV}{(1117.5,1453.3),(1061.4,1509.3),(1147.5,1535)}
\piezas{capV}{(1138.6,1451.7),(994.3,1560),(1243.2,1458)}
\foreach \y in {1449.3,1483.3,1499.3,1514.3,1530.7} {\path (1374.3,\y) pic {punta};}
\bornes{(884.3,1470)}
\nudos{(1117.5,1433.3),(1138.6,1433.3),(994.3,1536.3),(1061.4,1536.3),(1147.5,1512.3),(1147.5,1552.3),(1276.4,1441.3),(1250.4,1483.3)}
\piezas{barra}{(986.4,1389.3),(1059.3,1389.3),(1061.4,1480.3),(1147.5,1492.7),(1276.4,1406.3),(1211.4,1491.7)}
\piezas{gnd}{(943.2,1497.7),(1117.5,1476),(1138.6,1467.7),(994.3,1584),(1064.3,1586.7),(1250.4,1501.7)}

% Pulsador
\draw (1429.5,1301)--(1420.6,1301)--(1420.6,1321);
\draw (1453.7,1301)--(1596.7,1301);
\draw (1482.4,1251.3)--(1482.4,1301);
\draw (1573.4,1301)--(1573.4,1339.3);
\draw (1433,1294.3)--(1454,1294.3);
\piezas{resH}{(1523,1301)}
\piezas{resV}{(1482.4,1277)}
\piezas{capV}{(1573.4,1321)}
\bornes{(1433,1301),(1453.7,1301),(1596.7,1301)}
\nudos{(1482.4,1301),(1573.4,1301)}
\piezas{barra}{(1482.4,1251.3)}
\piezas{gnd}{(1420.6,1321),(1573.4,1339.3)}

% Circuito de salida
\draw (1680.2,1355.3)--(1848.2,1355.3)--(1848.2,1244.7);
\draw (1740.4,1355.3)--(1740.4,1402.7);
\draw (1848.2,1305)--(1896.5,1305) (1938.2,1305)--(2089.4,1305);
\draw (1896.5,1320.3)--(1878.6,1320.3)--(1878.6,1339);
\draw (1938.2,1320.3)--(1959.3,1320.3)--(1959.3,1341.7)--(1909.5,1341.7)--(1909.5,1358.3);
\draw (1938.2,1189.3)--(1938.2,1232.3)--(1993.5,1232.3)--(1993.5,1273.3)--(2089.4,1273.3);
\draw (2032,1273.3)--(2032,1346.7);
\draw (2062.9,1289.3)--(2089.4,1289.3);
\draw (2068.3,1263.3) rectangle (2094.3,1315.7);
\path (1917.4,1312.3) pic {opto};
\piezas{bobH}{(1934,1341.7),(1966.5,1232.3)}
\piezas{resH}{(1781,1355.3)}
\piezas{resV}{(1848.2,1275),(1993.5,1253.3)}
\piezas{capV}{(1740.4,1380),(2032,1326)}
\foreach \y in {1273.3,1289.3,1305} {\path (2089.4,\y) pic {punta};}
\bornes{(1680.2,1355.3)}
\nudos{(1740.4,1355.3),(1848.2,1305),(2032,1273.3)}
\piezas{barra}{(1848.2,1244.7),(1938.2,1189.3)}
\piezas{gnd}{(1740.4,1402.7),(1878.6,1339),(1909.5,1358.3),(2032,1346.7)}

% Rele
\draw (1673.7,1423.3)--(1730.6,1423.3);
\draw (1757,1423.3)--(1848.2,1423.3);
\draw (1874.3,1423)--(1910.6,1423)--(1910.6,1398.3);
\draw (1874.3,1443.3)--(2089.4,1443.3);
\draw (1848.2,1443.3)--(1831.4,1443.3)--(1831.4,1459.3)--(2089.4,1459.3);
\draw (1848.2,1419) rectangle (1874.3,1451.7);
\draw (2068.3,1432.3) rectangle (2094.3,1469.7);
\draw[pieza] (1852,1423)--(1856,1423)--(1856,1429) arc (180:0:2.5) arc (180:0:2.5)--(1866,1423)--(1870,1423);
\draw (1856,1432.3)--(1866,1432.3) (1856,1435.6)--(1866,1435.6);
\draw[pieza] (1851,1443.3)--(1855,1443.3) (1856,1448)--(1866,1441) (1866,1443.3)--(1871,1443.3);
\path (1730.6,1423.3) pic {inv};
\foreach \y in {1443.3,1459.3} {\path (2089.4,\y) pic {punta};}
\bornes{(1673.7,1423.3),(1848.2,1423.3),(1874.3,1423),(1848.2,1443.3),(1874.3,1443.3)}
\piezas{barra}{(1910.6,1398.3)}
\end{tikzpicture}
\end{document}
